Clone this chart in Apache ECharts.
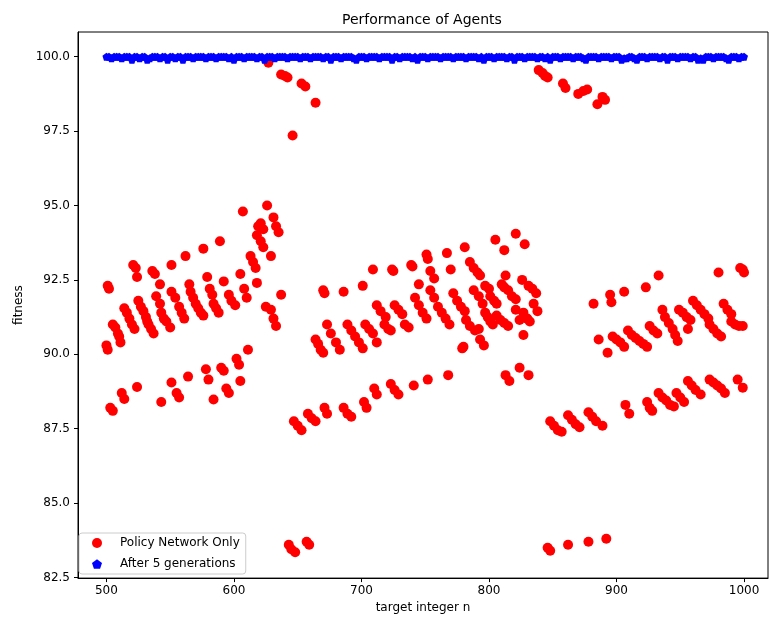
<!DOCTYPE html>
<html>
<head>
<meta charset="utf-8">
<script src="https://cdn.jsdelivr.net/npm/echarts@6/dist/echarts.min.js"></script>
<style>
html, body { margin: 0; padding: 0; background: #fff; }
#chart { width: 770px; height: 619px; }
</style>
</head>
<body>
<div id="chart"></div>
<script>
// tick labels
var xTicks = [500, 600, 700, 800, 900, 1000];
var yTicks = [82.5, 85.0, 87.5, 90.0, 92.5, 95.0, 97.5, 100.0];

// Policy Network Only  [n, fitness]
var policyOnly = [
  [500,90.3],[501,90.15],[501,92.3],[502,92.2],[503,88.2],[505,88.1],[505,91.0],[507,90.9],
  [509,90.7],[510,90.6],[511,90.4],[512,88.7],[514,88.5],[514,91.55],[516,91.4],[518,91.2],
  [520,91.0],[521,93.0],[522,90.85],[523,92.9],[524,92.6],[524,88.9],[525,91.8],[527,91.6],
  [529,91.45],[531,91.25],[532,91.1],[533,91.0],[535,90.85],[536,92.8],[537,90.7],[538,92.7],
  [539,91.95],[542,92.35],[542,91.7],[543,91.4],[543,88.4],[545,91.2],[547,91.1],[550,90.9],
  [551,93.0],[551,92.1],[551,89.05],[554,91.9],[555,88.7],[557,88.55],[557,91.6],[559,91.4],
  [561,91.2],[562,93.3],[564,89.25],[565,92.35],[566,92.1],[568,91.9],[570,91.7],[572,91.55],
  [574,91.4],[576,91.3],[576,93.55],[578,89.5],[579,92.6],[580,89.15],[581,92.2],[583,92.0],
  [584,91.7],[584,88.48],[586,91.55],[588,91.4],[589,93.8],[590,89.55],[592,89.45],[592,92.45],
  [594,88.85],[596,88.7],[596,92.0],[598,91.8],[601,91.65],[602,89.85],[604,89.65],[605,89.1],
  [605,92.7],[607,94.8],[608,92.2],[610,91.9],[611,90.15],[613,93.3],[615,93.1],[617,92.9],
  [618,92.4],[618,94.0],[619,94.3],[621,94.4],[621,93.8],[623,94.2],[623,93.6],[625,91.6],
  [626,95.0],[627,99.8],[629,93.3],[629,91.5],[631,94.6],[631,91.2],[633,94.3],[633,90.95],
  [635,94.1],[637,92.0],[637,99.4],[640,99.35],[642,99.3],[643,83.6],[645,83.45],[646,97.35],
  [647,87.75],[648,83.35],[650,87.6],[653,87.45],[653,99.1],[656,99.0],[657,83.7],[658,88.0],
  [659,83.6],[661,87.85],[664,98.45],[664,87.75],[664,90.5],[666,90.35],[668,90.15],[670,90.05],
  [670,92.15],[671,92.05],[671,88.2],[673,88.0],[673,91.0],[676,90.7],[680,90.4],[683,90.15],
  [686,92.1],[686,88.2],[689,88.0],[689,91.0],[692,87.9],[692,90.8],[695,90.6],[698,90.4],
  [701,90.2],[701,92.3],[702,88.4],[703,91.0],[704,88.2],[706,90.85],[709,90.7],[709,92.85],
  [710,88.85],[712,88.65],[712,90.4],[712,91.65],[715,91.45],[718,91.0],[719,91.25],[721,90.85],
  [723,90.8],[723,89.0],[724,92.85],[725,92.8],[726,91.65],[726,88.8],[729,91.5],[729,88.65],
  [732,91.35],[734,91.0],[737,90.9],[739,93.0],[740,92.95],[741,88.95],[742,91.9],[745,91.65],
  [745,92.35],[748,91.4],[751,91.2],[751,93.35],[752,93.2],[752,89.15],[754,92.8],[754,92.15],
  [757,92.55],[757,91.9],[760,91.6],[763,91.4],[766,91.2],[767,93.4],[768,89.3],[769,91.0],
  [770,92.85],[772,92.05],[775,91.8],[778,91.6],[779,90.2],[780,90.25],[781,91.45],[781,93.6],
  [782,91.15],[785,90.95],[785,93.1],[788,92.9],[788,92.15],[789,90.8],[791,92.75],[792,91.95],
  [792,90.85],[793,92.65],[793,90.5],[795,91.7],[796,90.3],[797,92.3],[797,91.4],[799,91.25],
  [800,92.2],[801,91.95],[801,91.1],[803,91.0],[804,91.8],[805,93.85],[806,91.7],[806,91.3],
  [809,91.15],[810,92.35],[812,93.5],[812,92.25],[812,91.05],[813,92.65],[813,89.3],[815,92.15],
  [815,90.95],[816,89.1],[818,91.95],[821,94.05],[821,91.85],[821,91.5],[824,91.15],[824,89.55],
  [826,92.5],[827,91.4],[827,90.65],[828,93.7],[830,91.2],[831,92.3],[831,89.3],[832,91.1],
  [834,92.2],[835,91.7],[837,92.05],[838,91.45],[839,99.55],[842,99.45],[844,99.35],[846,99.3],
  [846,83.5],[848,83.4],[848,87.75],[851,87.6],[854,87.45],[857,87.4],[858,99.1],[860,98.95],
  [862,83.6],[862,87.95],[865,87.8],[868,87.65],[870,98.75],[871,87.55],[874,98.85],[877,98.9],
  [878,83.7],[878,88.05],[881,87.9],[882,91.7],[884,87.75],[885,98.4],[886,90.5],[889,87.6],
  [889,98.65],[891,98.55],[892,83.8],[893,90.05],[895,92.0],[896,91.75],[897,90.6],[900,90.5],
  [903,90.4],[906,90.25],[906,92.1],[907,88.3],[909,90.8],[910,88.0],[912,90.65],[915,90.55],
  [918,90.45],[921,90.35],[923,92.25],[924,90.25],[924,88.4],[926,90.95],[926,88.2],[928,88.1],
  [929,90.8],[932,90.7],[933,92.65],[933,88.7],[936,91.5],[936,88.55],[938,91.25],[939,88.45],
  [941,91.05],[942,88.3],[944,90.85],[945,88.25],[946,90.65],[947,88.7],[948,90.45],[949,91.5],
  [950,88.55],[952,91.4],[953,88.4],[955,91.25],[956,90.85],[956,89.1],[958,91.15],[959,88.95],
  [960,91.8],[962,88.8],[963,91.65],[966,91.5],[966,88.65],[969,91.35],[972,91.2],[973,91.0],
  [973,89.15],[976,90.85],[976,89.05],[979,90.7],[979,88.95],[980,92.75],[982,90.6],[982,88.85],
  [984,91.7],[985,88.7],[987,91.5],[990,91.35],[990,91.1],[993,91.0],[995,89.15],[996,90.95],
  [997,92.9],[999,92.85],[999,90.95],[999,88.88],[1000,92.75]
];

// After 5 generations  [n, fitness]
var after5Gen = [
  [500,100.0],[502,100.0],[504,99.95],[506,100.0],[508,100.0],[510,100.0],[512,99.95],[514,100.0],
  [516,100.0],[518,100.0],[520,99.9],[522,100.0],[524,100.0],[526,99.95],[528,100.0],[530,100.0],
  [532,99.9],[534,99.95],[536,100.0],[538,100.0],[540,100.0],[542,99.95],[544,100.0],[546,100.0],
  [548,99.9],[550,100.0],[552,100.0],[554,99.95],[556,100.0],[558,100.0],[560,99.9],[562,100.0],
  [564,100.0],[566,100.0],[568,99.95],[570,100.0],[572,100.0],[574,100.0],[576,100.0],[578,99.95],
  [580,100.0],[582,100.0],[584,100.0],[586,99.95],[588,100.0],[590,100.0],[592,100.0],[594,100.0],
  [596,99.95],[598,100.0],[600,99.9],[602,100.0],[604,100.0],[606,100.0],[608,99.95],[610,100.0],
  [612,100.0],[614,100.0],[616,100.0],[618,99.95],[620,100.0],[622,100.0],[624,99.9],[626,100.0],
  [628,100.0],[630,100.0],[632,99.95],[634,100.0],[636,100.0],[638,100.0],[640,100.0],[642,99.95],
  [644,100.0],[646,100.0],[648,100.0],[650,100.0],[652,99.95],[654,100.0],[656,100.0],[658,100.0],
  [660,99.95],[662,100.0],[664,100.0],[666,100.0],[668,100.0],[670,99.95],[672,100.0],[674,100.0],
  [676,99.9],[678,100.0],[680,100.0],[682,100.0],[684,99.95],[686,100.0],[688,100.0],[690,100.0],
  [692,100.0],[694,99.95],[696,99.9],[698,100.0],[700,100.0],[702,100.0],[704,99.95],[706,100.0],
  [708,100.0],[710,100.0],[712,100.0],[714,99.95],[716,100.0],[718,100.0],[720,100.0],[722,100.0],
  [724,99.9],[726,100.0],[728,100.0],[730,99.95],[732,100.0],[734,100.0],[736,100.0],[738,100.0],
  [740,99.95],[742,100.0],[744,99.9],[746,100.0],[748,100.0],[750,100.0],[752,99.95],[754,100.0],
  [756,100.0],[758,100.0],[760,100.0],[762,99.95],[764,100.0],[766,100.0],[768,100.0],[770,100.0],
  [772,99.95],[774,100.0],[776,100.0],[778,100.0],[780,100.0],[782,99.95],[784,100.0],[786,100.0],
  [788,100.0],[790,100.0],[792,99.95],[794,100.0],[796,99.9],[798,100.0],[800,100.0],[802,100.0],
  [804,99.95],[806,100.0],[808,100.0],[810,100.0],[812,100.0],[814,99.95],[816,100.0],[818,100.0],
  [820,99.9],[822,100.0],[824,100.0],[826,100.0],[828,99.95],[830,100.0],[832,100.0],[834,100.0],
  [836,100.0],[838,99.95],[840,100.0],[842,100.0],[844,99.95],[846,100.0],[848,99.9],[850,100.0],
  [852,100.0],[854,100.0],[856,99.95],[858,100.0],[860,100.0],[862,100.0],[864,100.0],[866,99.95],
  [868,100.0],[870,100.0],[872,100.0],[874,99.95],[876,99.9],[878,100.0],[880,100.0],[882,100.0],
  [884,100.0],[886,99.95],[888,100.0],[890,100.0],[892,100.0],[894,100.0],[896,99.95],[898,100.0],
  [900,100.0],[902,100.0],[904,99.9],[906,99.95],[908,99.95],[910,100.0],[912,100.0],[914,99.95],
  [916,99.9],[918,100.0],[920,100.0],[922,100.0],[924,99.95],[926,100.0],[928,100.0],[930,100.0],
  [932,100.0],[934,99.95],[936,100.0],[938,100.0],[940,99.9],[942,100.0],[944,100.0],[946,100.0],
  [948,99.95],[950,100.0],[952,100.0],[954,100.0],[956,100.0],[958,99.95],[960,100.0],[962,100.0],
  [964,99.9],[966,99.95],[968,99.9],[970,100.0],[972,100.0],[974,100.0],[976,99.95],[978,100.0],
  [980,100.0],[982,100.0],[984,100.0],[986,99.95],[988,99.9],[990,100.0],[992,100.0],[994,100.0],
  [996,99.95],[998,100.0],[1000,100.0]
];

var pentagon = 'path://M0,-1 L0.951,-0.309 L0.588,0.809 L-0.588,0.809 L-0.951,-0.309 Z';
var font = 'DejaVu Sans';

var chart = echarts.init(document.getElementById('chart'));
chart.setOption({
  animation: false,
  backgroundColor: '#fff',
  title: {
    text: 'Performance of Agents',
    left: 337, top: 8,
    textStyle: { fontFamily: font, fontSize: 14, fontWeight: 'normal', color: '#000' }
  },
  legend: {
    orient: 'vertical',
    left: 79, top: 533,
    padding: [4, 6, 4, 13],
    itemWidth: 10, itemHeight: 10, itemGap: 9,
    borderColor: '#ccc', borderWidth: 1, borderRadius: 3,
    backgroundColor: 'rgba(255,255,255,0.8)',
    textStyle: { fontFamily: font, fontSize: 12, color: '#000', padding: [0, 0, 0, 13] },
    data: ['Policy Network Only', 'After 5 generations']
  },
  grid: {
    left: 78, right: 2, top: 32, bottom: 39,
    show: true, borderColor: '#000', borderWidth: 1
  },
  xAxis: {
    type: 'value',
    min: 477.7, max: 1018.8,
    name: 'target integer n', nameLocation: 'middle', nameGap: 23,
    nameTextStyle: { fontFamily: font, fontSize: 12, color: '#000' },
    axisLine: { show: true, lineStyle: { color: '#000', width: 1 } },
    axisTick: { show: true, length: 4, lineStyle: { color: '#000' }, customValues: xTicks },
    axisLabel: {
      fontFamily: font, fontSize: 12, color: '#000', margin: 7, customValues: xTicks,
      formatter: function (v) { return String(v); }
    },
    splitLine: { show: false }
  },
  yAxis: {
    type: 'value',
    min: 82.48, max: 100.83,
    name: 'fitness', nameLocation: 'middle', nameGap: 52, nameRotate: 90,
    nameTextStyle: { fontFamily: font, fontSize: 12, color: '#000' },
    axisLine: { show: true, lineStyle: { color: '#000', width: 1 } },
    axisTick: { show: true, length: 4, lineStyle: { color: '#000' }, customValues: yTicks },
    axisLabel: {
      fontFamily: font, fontSize: 12, color: '#000', margin: 8, customValues: yTicks,
      formatter: function (v) { return v.toFixed(1); }
    },
    splitLine: { show: false }
  },
  series: [
    {
      name: 'Policy Network Only',
      type: 'scatter',
      symbol: 'circle', symbolSize: 10,
      itemStyle: { color: '#ff0000', opacity: 1 },
      data: policyOnly
    },
    {
      name: 'After 5 generations',
      type: 'scatter',
      symbol: pentagon, symbolSize: 8,
      itemStyle: { color: '#0000ff', opacity: 1 },
      data: after5Gen
    }
  ]
});
</script>
</body>
</html>
